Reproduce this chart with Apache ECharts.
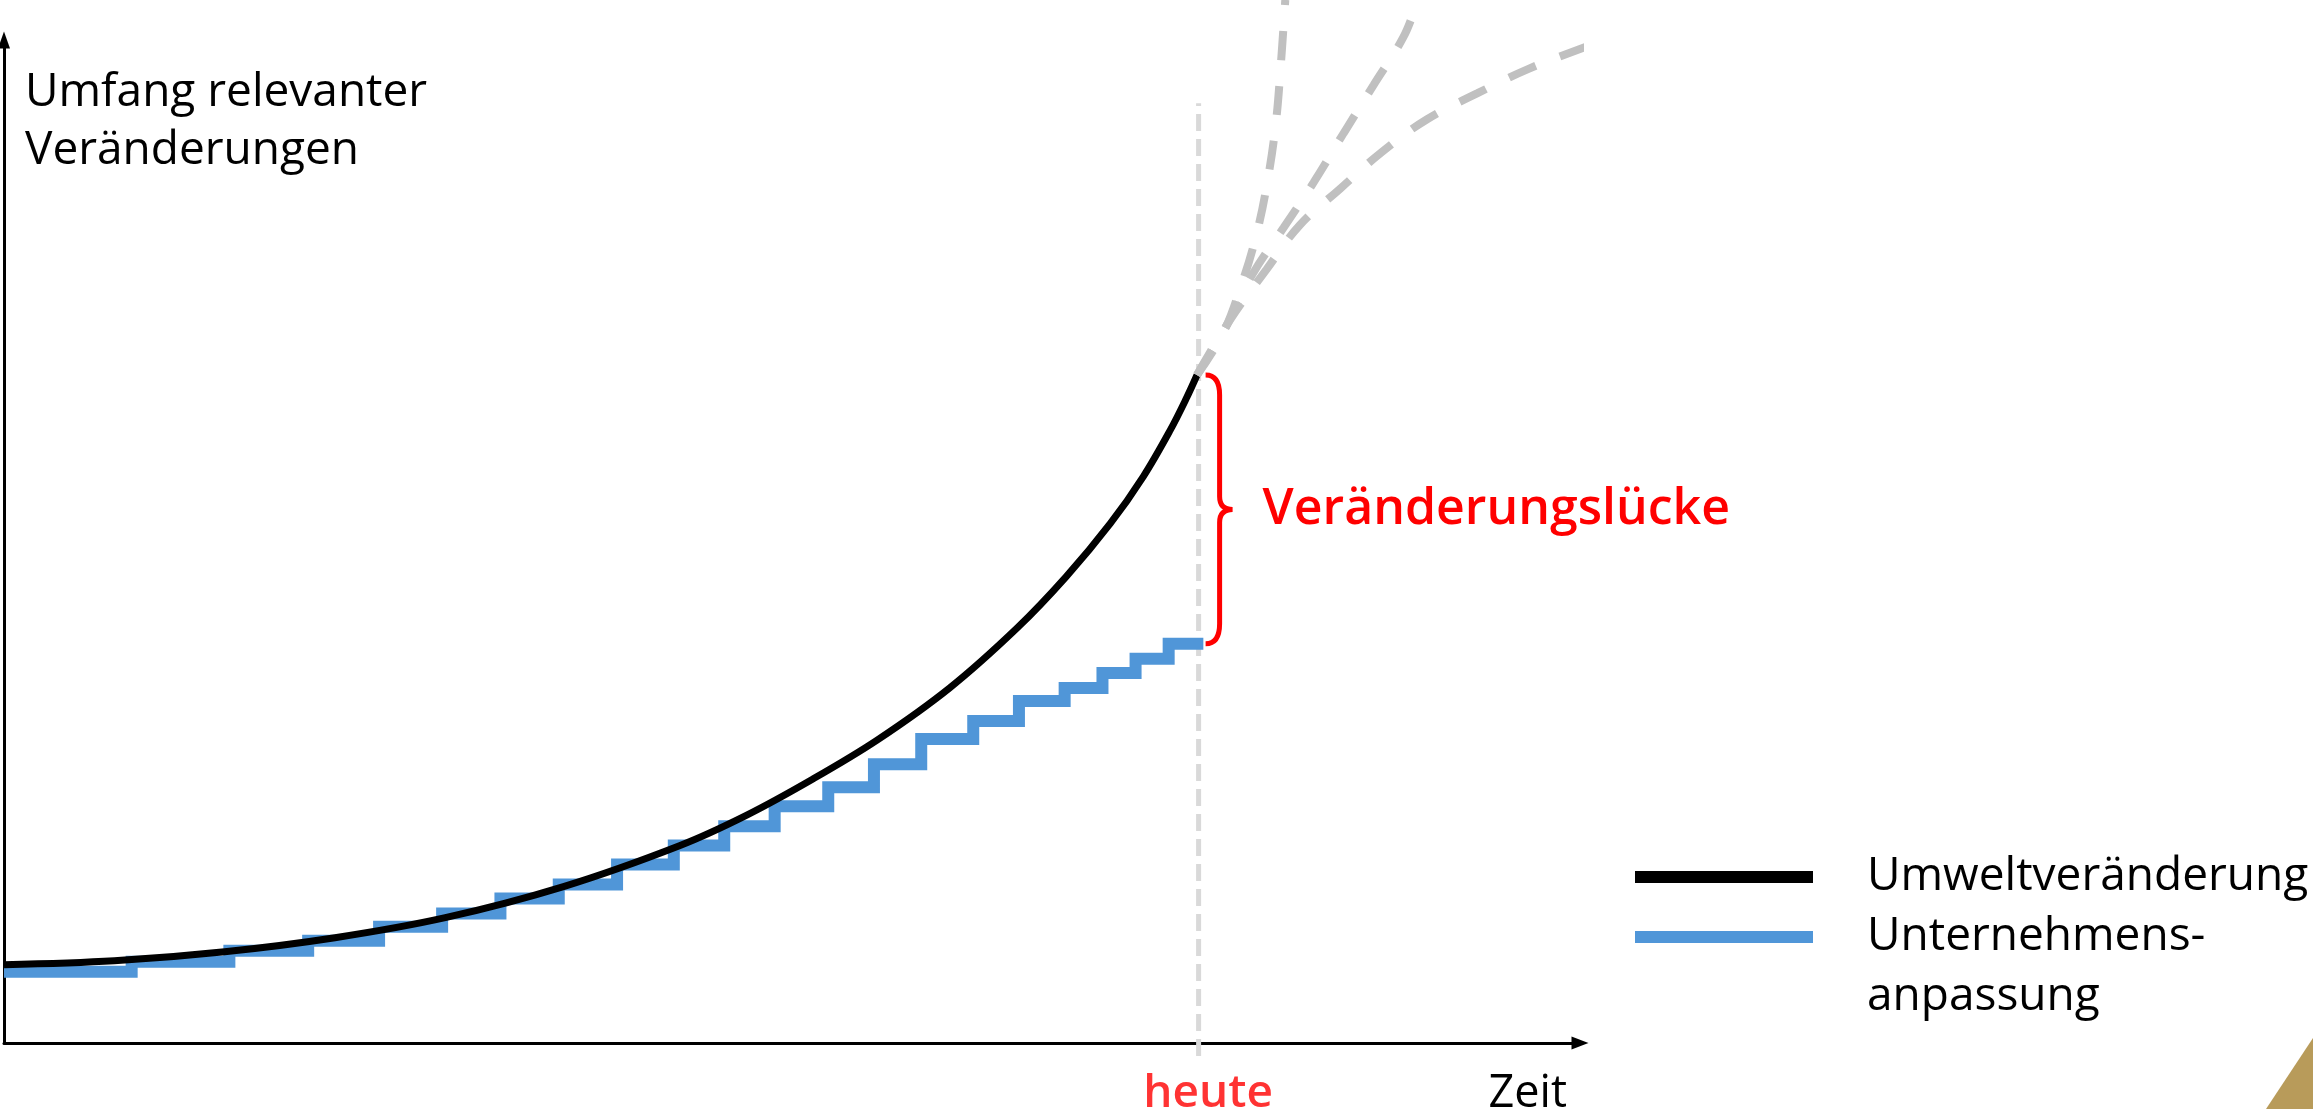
<!DOCTYPE html>
<html>
<head>
<meta charset="utf-8">
<script src="https://cdn.jsdelivr.net/npm/echarts@6/dist/echarts.min.js"></script>
<style>
html,body{margin:0;padding:0;background:#fff;}
#chart{width:2313px;height:1109px;}
</style>
</head>
<body>
<div id="chart"></div>
<script>
// ---- data (axis units: time 0..100, change 0..100) ----
const heute = 75.8;
const umweltX = [0, 7, 14, 21, 28, 35.5, 42.9, 47.1, 51.3, 55.4, 60.0, 64.3, 67.4, 70.2, 72.3, 74.0, 75.0, 75.7];
const umweltY = [7.8, 8.2, 9.1, 10.5, 12.5, 15.6, 19.7, 22.7, 26.3, 30.2, 35.4, 41.4, 46.5, 51.8, 56.5, 61.1, 64.2, 66.6];
const anpassungX = [0, 8.1, 14.3, 19.3, 23.8, 27.8, 31.5, 35.2, 38.9, 42.5, 45.7, 48.9, 52.3, 55.2, 58.2, 61.5, 64.4, 67.3, 69.7, 71.8, 73.9, 76.1];
const anpassungY = [7.1, 8.1, 9.2, 10.2, 11.6, 12.9, 14.4, 15.8, 17.8, 19.7, 21.6, 23.6, 25.5, 27.8, 30.3, 32.1, 34.1, 35.4, 36.9, 38.3, 39.8, 39.8];
const prognoseA_X = [75.7, 77.3, 78.5, 79.5, 80.2, 80.7, 81.0, 81.3];
const prognoseA_Y = [66.6, 70.6, 75.5, 80.8, 86.2, 91.7, 97.2, 104.0];
const prognoseB_X = [75.7, 77.5, 79.2, 81.2, 83.1, 85.0, 86.9, 88.8, 89.6];
const prognoseB_Y = [66.6, 71.3, 76.6, 81.3, 85.8, 90.7, 95.5, 100.3, 103.5];
const prognoseC_X = [75.7, 77.8, 80.1, 82.2, 84.8, 87.4, 90.3, 93.5, 96.7, 100.0, 102.9];
const prognoseC_Y = [66.6, 72.1, 77.1, 81.5, 85.2, 88.8, 92.1, 94.7, 97.1, 99.1, 100.7];
const heuteLineY = [-1.3, 93.7];
const seriesNames = ['Umweltveränderung', 'Unternehmensanpassung'];
const legendLabels = ['Umweltveränderung', 'Unternehmens-\nanpassung'];
const yTitle = 'Umfang relevanter\nVeränderungen';
const xTitle = 'Zeit';
const heuteLabel = 'heute';
const gapLabel = 'Veränderungslücke';

const zip = (xs, ys) => xs.map((x, i) => [x, ys[i]]);
const gapData = [[heute, umweltY[umweltY.length - 1], anpassungY[anpassungY.length - 1]]];

const FONT = 'Open Sans';
const chart = echarts.init(document.getElementById('chart'), null, {renderer: 'canvas'});

const greyDash = {
  type: 'line', smooth: 0.4, symbol: 'none', clip: false, silent: true, z: 5,
  lineStyle: {color: '#c0c0c0', width: 8, type: [29, 26], cap: 'butt'}
};

chart.setOption({
  animation: false,
  backgroundColor: '#ffffff',
  textStyle: {fontFamily: FONT},
  grid: {left: 4, right: 733, top: 40, bottom: 66, containLabel: false, outerBoundsMode: 'none'},
  xAxis: {
    type: 'value', min: 0, max: 100,
    name: xTitle, nameLocation: 'end', nameGap: -13,
    nameTextStyle: {fontFamily: FONT, fontSize: 45, color: '#000', align: 'right', verticalAlign: 'top', lineHeight: 54, padding: [24, 0, 0, 0]},
    axisLine: {show: true, onZero: false, symbol: ['none', 'triangle'], symbolSize: [13, 17], lineStyle: {color: '#000', width: 3}},
    axisTick: {show: false}, axisLabel: {show: false}, splitLine: {show: false}
  },
  yAxis: {
    type: 'value', min: 0, max: 100,
    name: yTitle, nameLocation: 'end', nameGap: 0,
    nameTextStyle: {fontFamily: FONT, fontSize: 46, color: '#000', align: 'left', verticalAlign: 'top', lineHeight: 58, padding: [24, 0, 0, 21]},
    axisLine: {show: true, onZero: false, symbol: ['none', 'triangle'], symbolSize: [12, 17], lineStyle: {color: '#000', width: 3}},
    axisTick: {show: false}, axisLabel: {show: false}, splitLine: {show: false}
  },
  legend: [
    {
      data: [seriesNames[0]], orient: 'vertical', left: 1635, top: 847, padding: 0,
      icon: 'rect', itemWidth: 178, itemHeight: 12, selectedMode: false,
      formatter: () => legendLabels[0],
      textStyle: {fontFamily: FONT, fontSize: 46, color: '#000', lineHeight: 60, padding: [0, 0, 0, 49]}
    },
    {
      data: [seriesNames[1]], orient: 'vertical', left: 1635, top: 847, padding: 0,
      icon: 'rect', itemWidth: 178, itemHeight: 12, selectedMode: false,
      formatter: () => '\n' + legendLabels[1],
      textStyle: {fontFamily: FONT, fontSize: 46, color: '#000', lineHeight: 60, padding: [0, 0, 0, 49]}
    }
  ],
  series: [
    {
      type: 'line', name: 'heute-linie', silent: true, z: 1, clip: false, symbol: 'none',
      lineStyle: {color: '#d9d9d9', width: 5, type: [17, 8], cap: 'butt'},
      data: heuteLineY.map(v => [heute, v])
    },
    {
      type: 'scatter', name: 'heute-label', silent: true, z: 2, clip: false,
      symbolSize: 1, itemStyle: {color: 'rgba(255,255,255,0)'},
      label: {show: true, position: [10, 15], align: 'center', verticalAlign: 'top', formatter: heuteLabel,
              color: '#ff0000', fontFamily: FONT, fontSize: 46, fontWeight: 600},
      data: [[heute, heuteLineY[0]]]
    },
    {
      type: 'line', name: seriesNames[1], step: 'end', symbol: 'none', z: 3,
      color: '#5096d8', itemStyle: {color: '#5096d8'},
      lineStyle: {color: '#5096d8', width: 12, cap: 'butt', join: 'miter'},
      data: zip(anpassungX, anpassungY)
    },
    {
      type: 'line', name: seriesNames[0], smooth: 0.35, symbol: 'none', z: 4,
      color: '#000000', itemStyle: {color: '#000000'},
      lineStyle: {color: '#000000', width: 7},
      data: zip(umweltX, umweltY)
    },
    Object.assign({name: 'prognose-a', data: zip(prognoseA_X, prognoseA_Y)}, greyDash),
    Object.assign({name: 'prognose-b', data: zip(prognoseB_X, prognoseB_Y)}, greyDash),
    Object.assign({name: 'prognose-c', data: zip(prognoseC_X, prognoseC_Y)}, greyDash),
    {
      type: 'custom', name: 'luecke', clip: false, silent: true, z: 6,
      data: gapData,
      renderItem: function (params, api) {
        const x = api.value(0);
        const pT = api.coord([x, api.value(1)]);
        const pB = api.coord([x, api.value(2)]);
        const x0 = pT[0] + 7, x1 = pT[0] + 21, x2 = pT[0] + 34;
        const t = pT[1], b = pB[1], m = (t + b) / 2;
        const r = 20, rm = 13;
        const d = 'M' + x0 + ' ' + t + ' Q' + x1 + ' ' + t + ' ' + x1 + ' ' + (t + r) +
                  ' L' + x1 + ' ' + (m - rm) + ' Q' + x1 + ' ' + m + ' ' + x2 + ' ' + m +
                  ' Q' + x1 + ' ' + m + ' ' + x1 + ' ' + (m + rm) +
                  ' L' + x1 + ' ' + (b - r) + ' Q' + x1 + ' ' + b + ' ' + x0 + ' ' + b;
        return {
          type: 'group',
          children: [
            {type: 'path', shape: {pathData: d}, style: {fill: 'none', stroke: '#ff0000', lineWidth: 5}},
            {type: 'text', style: {text: gapLabel, x: x2 + 30, y: m, verticalAlign: 'middle', align: 'left',
              fill: '#ff0000', font: '600 50px ' + FONT}}
          ]
        };
      }
    }
  ],
  graphic: [
    {type: 'polygon', silent: true, shape: {points: [[2313, 1038], [2313, 1109], [2266, 1109]]}, style: {fill: '#b89b5a'}}
  ]
});
</script>
</body>
</html>
